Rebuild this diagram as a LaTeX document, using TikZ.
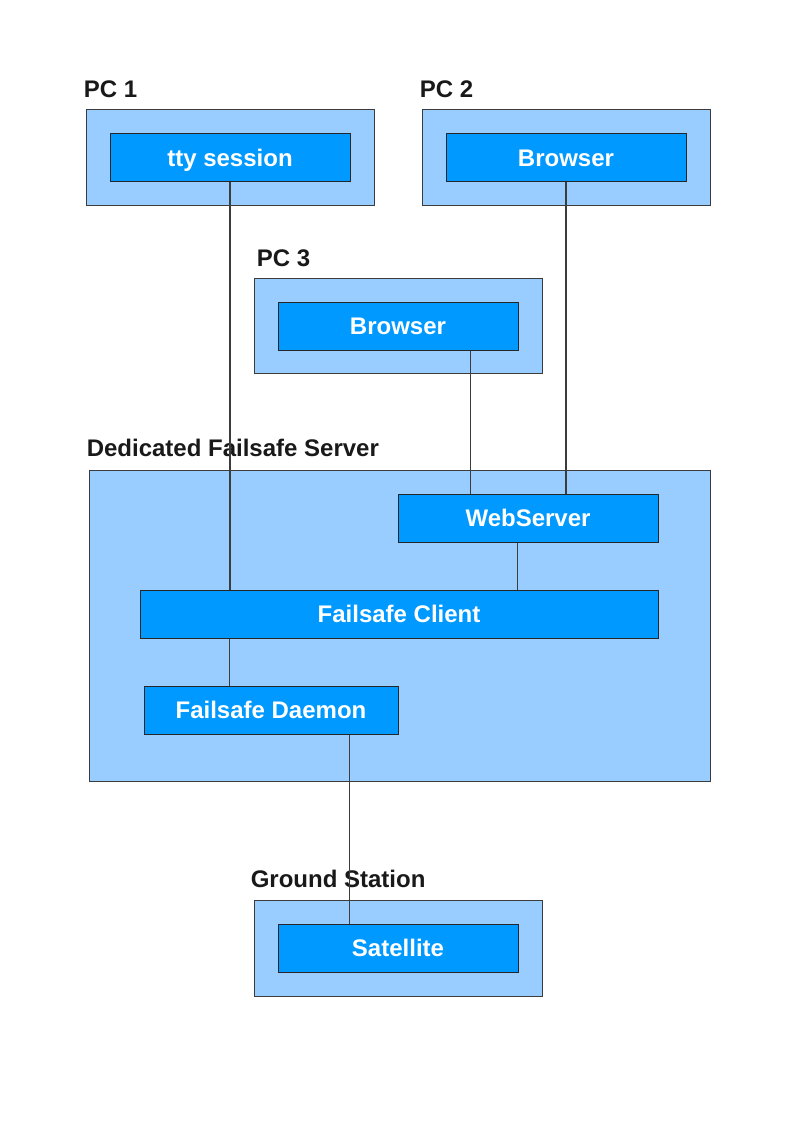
\documentclass[tikz,border=0pt]{standalone}
\usepackage{fontspec}
\setmainfont{Liberation Sans}
\usetikzlibrary{calc,positioning}
\definecolor{hostfill}{HTML}{99CCFF}
\definecolor{procfill}{HTML}{0099FF}
\definecolor{edgegray}{HTML}{3C3C3C}

\begin{document}
\begin{tikzpicture}[x=0.75pt, y=-0.75pt,
    host/.style={draw=edgegray, fill=hostfill, line width=0.75pt, inner sep=0pt,
                 minimum width=216pt, minimum height=72pt},
    proc/.style={draw=black!85, fill=procfill, line width=0.75pt, inner sep=0pt,
                 minimum width=180pt, minimum height=36pt, text=white,
                 text height=12.9pt, text depth=0pt,
                 font=\fontsize{18}{22}\selectfont\bfseries},
    hostname/.style={anchor=base west, inner sep=0pt, text=black!90,
                     font=\fontsize{18}{22}\selectfont\bfseries},
    link/.style={draw=edgegray, line width=0.8pt}]
  \useasboundingbox (0,0) rectangle (794,1123);

  % hosts
  \node[host]                 (pc1)    at (230, 158)     {};
  \node[host]                 (pc2)    at (566, 158)     {};
  \node[host, minimum height=71.25pt]
                              (pc3)    at (398, 325.5)   {};
  \node[host, minimum width=465.75pt, minimum height=233.25pt]
                              (server) at (399.5, 625.5) {};
  \node[host]                 (ground) at (398, 948)     {};

  \node[hostname] (pc1name)    at ([shift={(-2,-12)}]pc1.north west)    {PC 1};
  \node[hostname] (pc2name)    at ([shift={(-2,-12)}]pc2.north west)    {PC 2};
  \node[hostname] (pc3name)    at ([shift={(3,-11)}]pc3.north west)     {PC 3};
  \node[hostname] (servername) at ([shift={(-2,-13)}]server.north west) {Dedicated Failsafe Server};
  \node[hostname] (groundname) at ([shift={(-3,-12)}]ground.north west) {Ground Station};

  % processes
  \node[proc]                           (tty)    at (230, 158) {tty session};
  \node[proc]                           (br2)    at (566, 158) {Browser};
  \node[proc]                           (br3)    at (398, 326) {Browser};
  \node[proc, minimum width=195pt]      (web)    at (528, 518) {WebServer};
  \node[proc, minimum width=388.5pt]    (client) at (399, 614) {Failsafe Client};
  \node[proc, minimum width=190.5pt]    (daemon) at (271, 710) {Failsafe Daemon};
  \node[proc]                           (sat)    at (398, 948) {Satellite};

  % links
  \coordinate (br3out)    at ($(br3.south east)+(-48,0)$);
  \coordinate (webout)    at ($(web.south west)+(120,0)$);
  \coordinate (clientout) at ($(client.south west)+(90,0)$);
  \coordinate (daemonout) at ($(daemon.south west)+(206,0)$);

  \draw[link] (tty.south)  -- (tty.south |- client.north);
  \draw[link] (br2.south)  -- (br2.south |- web.north);
  \draw[link] (br3out)     -- (br3out |- web.north);
  \draw[link] (webout)     -- (webout |- client.north);
  \draw[link] (clientout)  -- (clientout |- daemon.north);
  \draw[link] (daemonout)  -- (daemonout |- sat.north);
\end{tikzpicture}
\end{document}
